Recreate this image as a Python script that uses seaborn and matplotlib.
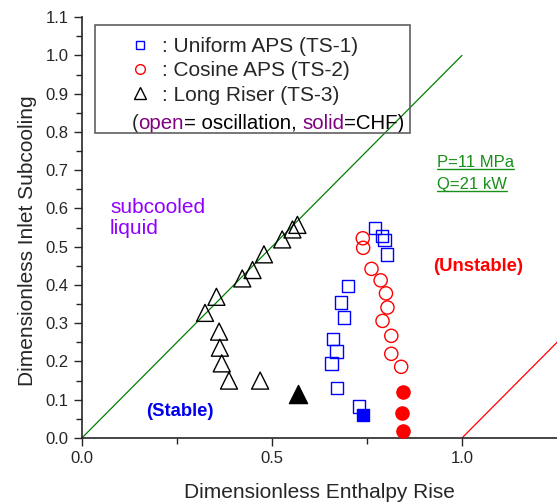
import matplotlib
matplotlib.use("Agg")
import matplotlib.pyplot as plt
import seaborn as sns
from matplotlib.lines import Line2D
from matplotlib.patches import Rectangle

sns.set_style("ticks")
plt.rcParams["font.family"] = ["Liberation Sans", "DejaVu Sans"]

# TS-1 Uniform APS (open = oscillation, solid = CHF)
ts1_x = [0.771, 0.789, 0.796, 0.803, 0.700, 0.681, 0.689, 0.660, 0.670, 0.657, 0.671, 0.729]
ts1_y = [0.549, 0.528, 0.517, 0.480, 0.397, 0.354, 0.315, 0.259, 0.226, 0.195, 0.131, 0.082]
ts1_chf_x = [0.739]
ts1_chf_y = [0.060]

# TS-2 Cosine APS
ts2_x = [0.739, 0.740, 0.762, 0.786, 0.800, 0.804, 0.791, 0.814, 0.814, 0.840]
ts2_y = [0.522, 0.497, 0.442, 0.412, 0.378, 0.341, 0.306, 0.267, 0.220, 0.186]
ts2_chf_x = [0.845, 0.842, 0.845]
ts2_chf_y = [0.120, 0.064, 0.019]

# TS-3 Long Riser
ts3_x = [0.567, 0.554, 0.527, 0.479, 0.449, 0.422, 0.354, 0.324, 0.361, 0.363, 0.368, 0.387, 0.469]
ts3_y = [0.557, 0.545, 0.519, 0.480, 0.439, 0.417, 0.369, 0.327, 0.278, 0.236, 0.195, 0.150, 0.150]
ts3_chf_x = [0.569]
ts3_chf_y = [0.115]

# boundary lines
sat_line_x = [0.0, 1.0]
sat_line_y = [0.0, 1.0]
unst_line_x = [1.0, 1.3]
unst_line_y = [0.0, 0.3]

fig = plt.figure(figsize=(5.57, 5.04), dpi=100)
ax = fig.add_axes([0.147, 0.131, 0.853, 0.835])

ax.plot(sat_line_x, sat_line_y, color="#008000", lw=0.9)
ax.plot(unst_line_x, unst_line_y, color="red", lw=0.9)

sns.scatterplot(x=ts1_x, y=ts1_y, marker="s", s=80, facecolors="none",
                edgecolor="blue", linewidth=1.0, ax=ax, zorder=3)
sns.scatterplot(x=ts1_chf_x, y=ts1_chf_y, marker="s", s=80, color="blue",
                edgecolor="blue", linewidth=1.0, ax=ax, zorder=3)
sns.scatterplot(x=ts2_x, y=ts2_y, marker="o", s=90, facecolors="none",
                edgecolor="red", linewidth=1.0, ax=ax, zorder=3)
sns.scatterplot(x=ts2_chf_x, y=ts2_chf_y, marker="o", s=90, color="red",
                edgecolor="red", linewidth=1.0, ax=ax, zorder=3)
sns.scatterplot(x=ts3_x, y=ts3_y, marker="^", s=150, facecolors="none",
                edgecolor="black", linewidth=1.0, ax=ax, zorder=3)
sns.scatterplot(x=ts3_chf_x, y=ts3_chf_y, marker="^", s=170, color="black",
                edgecolor="black", linewidth=1.0, ax=ax, zorder=3)

ax.set_xlim(0, 1.25)
ax.set_ylim(0, 1.1)
ax.set_xticks([0, 0.5, 1.0])
ax.set_xticks([0.25, 0.75], minor=True)
ax.set_xticklabels(["0.0", "0.5", "1.0"])
ax.set_yticks([i / 10 for i in range(12)])
ax.set_yticks([i / 20 for i in range(1, 22, 2)], minor=True)
ax.set_yticklabels([f"{i / 10:.1f}" for i in range(12)])
ax.tick_params(which="major", length=6, width=1, labelsize=12, direction="out")
ax.tick_params(which="minor", length=4, width=1, direction="out")
for s in ["top", "right"]:
    ax.spines[s].set_visible(False)
for s in ["left", "bottom"]:
    ax.spines[s].set_linewidth(1.2)
ax.set_xlabel("Dimensionless Enthalpy Rise", fontsize=15, labelpad=12)
ax.set_ylabel("Dimensionless Inlet Subcooling", fontsize=15)
ax.yaxis.set_label_coords(-0.095, 0.468)

# legend box
ax.add_patch(Rectangle((0.027, 0.725), 0.664, 0.256, transform=ax.transAxes,
                       fill=False, edgecolor="#606060", lw=1.2, zorder=5))
handles = [
    Line2D([], [], marker="s", ls="none", mfc="none", mec="blue", ms=6),
    Line2D([], [], marker="o", ls="none", mfc="none", mec="red", ms=7),
    Line2D([], [], marker="^", ls="none", mfc="none", mec="black", ms=8),
]
labels = [": Uniform APS (TS-1)", ": Cosine APS (TS-2)", ": Long Riser (TS-3)"]
ax.legend(handles, labels, loc="upper left", bbox_to_anchor=(0.085, 0.972),
          frameon=False, fontsize=15, handlelength=0.9, handletextpad=0.6,
          labelspacing=0.25, borderaxespad=0)

t = ax.text(0.105, 0.735, "(", transform=ax.transAxes, fontsize=14.7, va="baseline")
for piece, col in [("open", "#800080"), ("= oscillation, ", "black"),
                   ("solid", "#800080"), ("=CHF)", "black")]:
    t = ax.annotate(piece, xy=(1, 0), xycoords=t, fontsize=14.7, color=col,
                    va="bottom")

ax.text(0.074, 0.523, "subcooled\nliquid", fontsize=15, color="#8f00ff",
        linespacing=1.15, va="bottom")
ax.text(0.258, 0.068, "(Stable)", fontsize=13.3, color="#0000ee",
        fontweight="bold", ha="center", va="center")
ax.text(1.042, 0.447, "(Unstable)", fontsize=13.3, color="red",
        fontweight="bold", ha="center", va="center")
p1 = ax.text(0.934, 0.708, "P=11 MPa", fontsize=12, color="#1a8f1a")
p2 = ax.text(0.934, 0.651, "Q=21 kW", fontsize=12, color="#1a8f1a")

# underline the green annotations
fig.canvas.draw()
inv = fig.transFigure.inverted()
for tt in (p1, p2):
    bb = tt.get_window_extent()
    (x0, y0), (x1, _) = inv.transform([(bb.x0, bb.y0 + 1), (bb.x1, bb.y0)])
    fig.add_artist(Line2D([x0, x1], [y0, y0], color="#1a8f1a", lw=1.0))

fig.savefig("out.png", dpi=100)
